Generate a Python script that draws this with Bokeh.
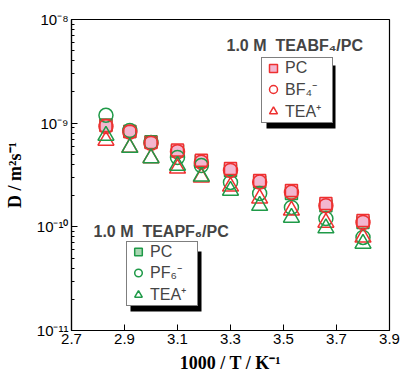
from bokeh.plotting import figure
from bokeh.models import FixedTicker, Legend, LegendItem, Label, BoxAnnotation
from bokeh.embed import file_html
from bokeh.resources import INLINE

# ---- data ----
inv_T = [2.83, 2.92, 3.00, 3.10, 3.19, 3.30, 3.41, 3.53, 3.66, 3.80]
bf4_pc = [9.5e-10, 8.3e-10, 6.5e-10, 5.5e-10, 4.4e-10, 3.66e-10, 2.8e-10, 2.24e-10, 1.68e-10, 1.15e-10]
bf4_anion = [9.3e-10, 8.2e-10, 6.4e-10, 5.3e-10, 4.2e-10, 3.5e-10, 2.7e-10, 2.15e-10, 1.6e-10, 1.1e-10]
bf4_cation = [6.8e-10, 5.8e-10, 4.6e-10, 3.66e-10, 3.0e-10, 2.45e-10, 1.88e-10, 1.44e-10, 1.1e-10, 7.9e-11]
pf6_pc = [9.6e-10, 8.3e-10, 6.6e-10, 5.4e-10, 4.3e-10, 3.5e-10, 2.7e-10, 2.1e-10, 1.6e-10, 1.1e-10]
pf6_anion = [1.19e-9, 8.5e-10, 6.5e-10, 4.67e-10, 3.9e-10, 2.68e-10, 2.1e-10, 1.54e-10, 1.2e-10, 7.9e-11]
pf6_cation = [7.6e-10, 5.8e-10, 4.6e-10, 3.9e-10, 3.06e-10, 2.24e-10, 1.6e-10, 1.23e-10, 9.7e-11, 6.9e-11]

x_ticks = [2.7, 2.9, 3.1, 3.3, 3.5, 3.7, 3.9]
x_tick_labels = ["2.7", "2.9", "3.1", "3.3", "3.5", "3.7", "3.9"]
y_ticks = [1e-11, 1e-10, 1e-9, 1e-8]
y_tick_labels = ["10\u207b\u00b9\u00b9", "10\u207b\u00b9\u2070", "10\u207b\u2079", "10\u207b\u2078"]

RED = "#ee3030"
GREEN = "#1f9a48"
PINK = "#f3b6cf"
LGREEN = "#a9d6b2"

p = figure(width=400, height=375, x_range=(2.7, 3.9), y_range=(1e-11, 1e-8),
           y_axis_type="log", output_backend="svg", toolbar_location=None,
           min_border_left=71, min_border_right=11, min_border_top=19, min_border_bottom=45)
p.grid.visible = False
p.outline_line_color = "black"
p.outline_line_width = 1.2

p.xaxis.ticker = FixedTicker(ticks=x_ticks, minor_ticks=[])
p.xaxis.major_label_overrides = {t: l for t, l in zip(x_ticks, x_tick_labels)}
minor = [m * 10.0 ** e for e in (-11, -10, -9) for m in range(2, 10)]
p.yaxis.ticker = FixedTicker(ticks=y_ticks, minor_ticks=minor)
p.yaxis.major_label_overrides = {t: l for t, l in zip(y_ticks, y_tick_labels)}
for ax in (p.xaxis, p.yaxis):
    ax.major_tick_in = 6
    ax.major_tick_out = 0
    ax.minor_tick_in = 3
    ax.minor_tick_out = 0
    ax.axis_line_color = "black"
    ax.axis_line_width = 1.2
    ax.major_label_text_font = "Liberation Sans"
    ax.major_label_text_font_size = "15px"
    ax.major_label_text_color = "black"
    ax.major_label_standoff = 3
    ax.axis_label_text_font = "Liberation Serif"
    ax.axis_label_text_font_style = "bold"
    ax.axis_label_text_color = "black"

p.xaxis.axis_label = "1000 / T / K\u207b\u00b9"
p.xaxis.axis_label_text_font_size = "18px"
p.xaxis.axis_label_standoff = 6
p.yaxis.axis_label = "D / m\u00b2s\u207b\u00b9"
p.yaxis.axis_label_text_font_size = "18px"
p.yaxis.axis_label_standoff = 9

r_gpc = p.scatter(inv_T, pf6_pc, marker="square", size=12, fill_color=LGREEN, line_color=GREEN, line_width=1.5)
r_rpc = p.scatter(inv_T, bf4_pc, marker="square", size=12, fill_color=PINK, line_color=RED, line_width=1.5)
r_gan = p.scatter(inv_T, pf6_anion, marker="circle", size=14, fill_color=None, line_color=GREEN, line_width=1.5)
r_ran = p.scatter(inv_T, bf4_anion, marker="circle", size=14, fill_color=None, line_color=RED, line_width=1.5)
r_rca = p.scatter(inv_T, bf4_cation, marker="triangle", size=16, fill_color=None, line_color=RED, line_width=1.5)
r_gca = p.scatter(inv_T, pf6_cation, marker="triangle", size=16, fill_color=None, line_color=GREEN, line_width=1.5)


def add_shadow(left, right, bottom, top):
    p.add_layout(BoxAnnotation(left=left, right=right, bottom=bottom, top=top,
                               left_units="screen", right_units="screen",
                               bottom_units="screen", top_units="screen",
                               fill_color="black", fill_alpha=1, line_color=None))


def add_legend(items, loc, gh):
    lg = Legend(items=items, location=loc, orientation="vertical",
                glyph_width=22, glyph_height=gh, label_height=gh, spacing=0, padding=0,
                label_standoff=1, label_width=47, margin=0,
                label_text_font="Liberation Sans", label_text_font_size="16px",
                border_line_color="black", border_line_width=1, background_fill_alpha=1.0)
    p.add_layout(lg, "center")


add_shadow(195, 264, 202, 265)
add_legend([LegendItem(label="PC", renderers=[r_rpc]),
            LegendItem(label="BF\u2084\u207b", renderers=[r_ran]),
            LegendItem(label="TEA\u207a", renderers=[r_rca])], (190, 207), 20)
add_shadow(59, 130, 19, 79)
add_legend([LegendItem(label="PC", renderers=[r_gpc]),
            LegendItem(label="PF\u2086\u207b", renderers=[r_gan]),
            LegendItem(label="TEA\u207a", renderers=[r_gca])], (55, 24), 19)


def title(text, x, y):
    p.add_layout(Label(x=x, y=y, x_units="screen", y_units="screen", text=text,
                       text_font="Liberation Sans", text_font_size="16px", text_font_style="bold",
                       text_align="left", text_baseline="middle"))


title("1.0 M \u00a0TEABF\u2084/PC", 155, 285)
title("1.0 M \u00a0TEAPF\u2086/PC", 22, 99)

open("out.html", "w").write(file_html(p, INLINE))
